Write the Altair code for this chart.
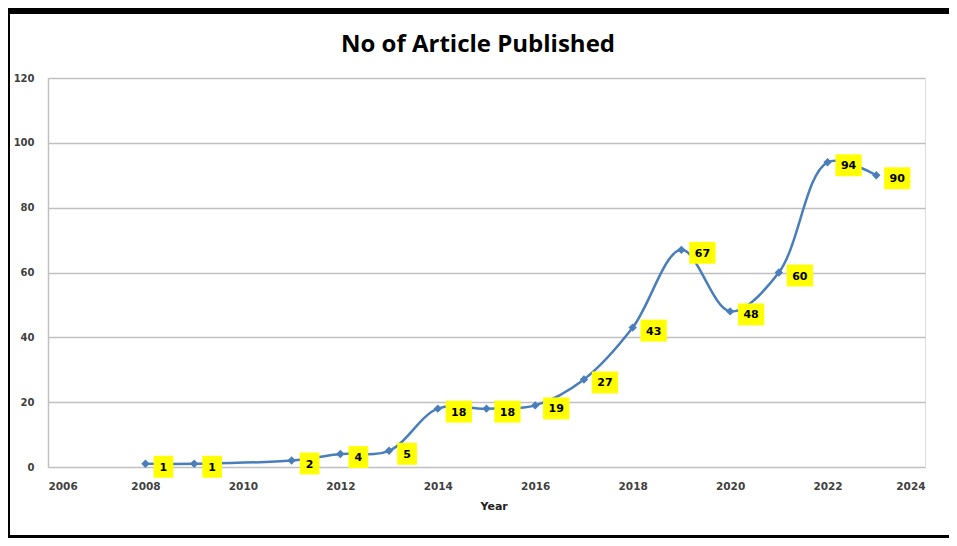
import altair as alt
import pandas as pd

years = [2008, 2009, 2011, 2012, 2013, 2014, 2015, 2016, 2017, 2018, 2019, 2020, 2021, 2022, 2023]
counts = [1, 1, 2, 4, 5, 18, 18, 19, 27, 43, 67, 48, 60, 94, 90]
chart_title = "No of Article Published"

df = pd.DataFrame({"Year": years, "Count": counts})
df["Label"] = df["Count"].astype(str)
df["Wide"] = df["Count"] >= 10

BLUE = "#4A7EBB"
FONT = "DejaVu Sans"

x = alt.X("Year:Q", scale=alt.Scale(domain=[2006, 2024], nice=False, zero=False),
          axis=alt.Axis(values=list(range(2006, 2025, 2)), format="d", title="Year",
                        grid=False, ticks=False, domain=False, labelPadding=14,
                        labelFont=FONT, labelFontSize=10.5, labelFontWeight="bold",
                        labelColor="#404040", titleFont=FONT, titleFontSize=11,
                        titleFontWeight="bold", titleColor="#222222", titlePadding=9,
                        titleX=432, titleAnchor="start"))
y = alt.Y("Count:Q", scale=alt.Scale(domain=[0, 120], nice=False),
          axis=alt.Axis(values=list(range(0, 121, 20)), title=None, ticks=False,
                        domain=True, domainColor="#C0C0C0", domainWidth=1.5,
                        gridColor="#C0C0C0", gridWidth=1.5,
                        labelPadding=14, labelFont=FONT, labelFontSize=10,
                        labelFontWeight="bold", labelColor="#404040"))

base = alt.Chart(df)

line = base.mark_line(color=BLUE, strokeWidth=2.5, interpolate="catmull-rom").encode(x=x, y=y)
pts = base.mark_point(shape="diamond", filled=True, size=70, color=BLUE, opacity=1).encode(x=x, y=y)

box_narrow = base.transform_filter("!datum.Wide").mark_point(
    shape="M-0.9,-1H0.9V1H-0.9Z", filled=True, size=480, color="#FFFF00", opacity=1,
    xOffset=18, yOffset=3).encode(x=x, y=y)
box_wide = base.transform_filter("datum.Wide").mark_point(
    shape="M-1.2,-1H1.2V1H-1.2Z", filled=True, size=480, color="#FFFF00", opacity=1,
    xOffset=21, yOffset=3).encode(x=x, y=y)

lbl_narrow = base.transform_filter("!datum.Wide").mark_text(
    font=FONT, fontSize=11, fontWeight="bold", color="#000000",
    xOffset=18, yOffset=4).encode(x=x, y=y, text="Label:N")
lbl_wide = base.transform_filter("datum.Wide").mark_text(
    font=FONT, fontSize=11, fontWeight="bold", color="#000000",
    xOffset=21, yOffset=4).encode(x=x, y=y, text="Label:N")

single = pd.DataFrame({"t": [chart_title]})
title_mark = alt.Chart(single).mark_text(
    font="Open Sans", fontSize=24, fontWeight="bold", color="#000000",
    align="center", baseline="alphabetic").encode(
    x=alt.value(430), y=alt.value(-26), text="t:N")

frame_top = alt.Chart(single).mark_rect(color="black").encode(
    x=alt.value(-40), x2=alt.value(901), y=alt.value(-70), y2=alt.value(-64))
frame_left = alt.Chart(single).mark_rect(color="black").encode(
    x=alt.value(-40), x2=alt.value(-38), y=alt.value(-70), y2=alt.value(460))
frame_bottom = alt.Chart(single).mark_rect(color="black").encode(
    x=alt.value(-40), x2=alt.value(901), y=alt.value(457), y2=alt.value(460))

chart = alt.layer(
    line, pts, box_narrow, box_wide, lbl_narrow, lbl_wide,
    title_mark, frame_top, frame_left, frame_bottom
).properties(
    width=877, height=389,
    autosize=alt.AutoSizeParams(type="none"),
    padding={"left": 40, "top": 70, "right": 24, "bottom": 71},
).configure_view(stroke=None).configure(background="white")

chart.save("out.html", embed_options={"renderer": "svg", "actions": False})
